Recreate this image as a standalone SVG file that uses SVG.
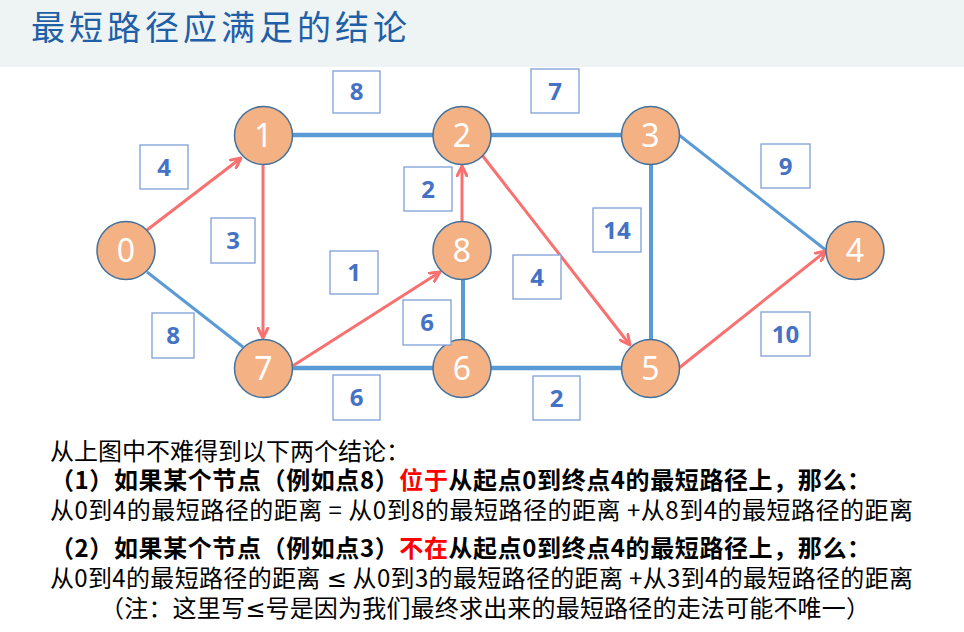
<svg xmlns="http://www.w3.org/2000/svg" width="964" height="632" viewBox="0 0 964 632">
<defs>
<marker id="arr" viewBox="0 0 12 12" refX="11" refY="6" markerWidth="12" markerHeight="12" markerUnits="userSpaceOnUse" orient="auto">
<path d="M1,1 L11,6 L1,11" fill="none" stroke="#F87171" stroke-width="3" stroke-linecap="round" stroke-linejoin="round"/>
</marker>
<style>
.node circle{fill:#F4B183;stroke:#41719C;stroke-width:1.5}
.node text{fill:#fff;font-family:"Noto Sans","Open Sans",sans-serif;font-size:32px;text-anchor:middle}
.lbl rect{fill:#fff;stroke:#7F9FD8;stroke-width:1.3}
.lbl text{fill:#4472C4;font-family:"Open Sans","Noto Sans",sans-serif;font-size:24px;font-weight:700;text-anchor:middle}
.blue{stroke:#5B9BD5;fill:none}
.red{stroke:#F87171;stroke-width:3;fill:none;marker-end:url(#arr)}
.txt{font-family:"Noto Sans CJK SC","Noto Sans",sans-serif;font-size:24px;fill:#000}
.b{font-weight:bold}
.r{fill:#FF0000}
.le{font-family:"Noto Sans","DejaVu Sans",sans-serif}
</style>
</defs>
<rect x="0" y="0" width="964" height="632" fill="#fff"/>
<rect x="0" y="0" width="964" height="67" fill="#EEF3F4"/>
<text x="31" y="40" font-family="Noto Sans CJK SC,Noto Sans,sans-serif" font-size="34" fill="#1F5FA8" textLength="376" lengthAdjust="spacing">最短路径应满足的结论</text>

<g id="connectors">
<line class="blue" stroke-width="4.5" x1="292" y1="135" x2="434" y2="135"/>
<line class="blue" stroke-width="4.5" x1="491" y1="135" x2="622" y2="135"/>
<line class="blue" stroke-width="4.5" x1="292" y1="368" x2="434" y2="368"/>
<line class="blue" stroke-width="4.5" x1="491" y1="368" x2="622" y2="368"/>
<line class="blue" stroke-width="4" x1="463" y1="279" x2="463" y2="340"/>
<line class="blue" stroke-width="4" x1="651" y1="164" x2="651" y2="340"/>
<line class="blue" stroke-width="3" x1="147" y1="272" x2="243" y2="347"/>
<line class="blue" stroke-width="3" x1="679" y1="135" x2="827" y2="251"/>
<line class="red" x1="147" y1="230" x2="241" y2="158"/>
<line class="red" x1="263" y1="165" x2="263" y2="338"/>
<line class="red" x1="291" y1="367" x2="440" y2="272"/>
<line class="red" x1="462" y1="222" x2="462" y2="166"/>
<line class="red" x1="482" y1="155" x2="630" y2="345"/>
<line class="red" x1="679" y1="368" x2="826" y2="251"/>
</g>

<g id="n0" class="node"><circle cx="126" cy="250.5" r="29"/><text x="126" y="262">0</text></g>
<g id="n1" class="node"><circle cx="263.5" cy="135.5" r="29"/><text x="263.5" y="147">1</text></g>
<g id="n2" class="node"><circle cx="462" cy="135.5" r="29"/><text x="462" y="147">2</text></g>
<g id="n3" class="node"><circle cx="650.5" cy="135.5" r="29"/><text x="650.5" y="147">3</text></g>
<g id="n4" class="node"><circle cx="855" cy="250.5" r="29"/><text x="855" y="262">4</text></g>
<g id="n5" class="node"><circle cx="650.5" cy="368.5" r="29"/><text x="650.5" y="380">5</text></g>
<g id="n6" class="node"><circle cx="462" cy="368.5" r="29"/><text x="462" y="380">6</text></g>
<g id="n7" class="node"><circle cx="263.5" cy="368.5" r="29"/><text x="263.5" y="380">7</text></g>
<g id="n8" class="node"><circle cx="462" cy="250.5" r="29"/><text x="462" y="262">8</text></g>

<g id="labels">
<g class="lbl"><rect x="333" y="71" width="47" height="42"/><text x="356.5" y="100">8</text></g>
<g class="lbl"><rect x="531" y="69" width="48" height="44"/><text x="555" y="99.5">7</text></g>
<g class="lbl"><rect x="140" y="145" width="48" height="44"/><text x="164" y="175.5">4</text></g>
<g class="lbl"><rect x="211" y="218" width="44" height="45"/><text x="233" y="249">3</text></g>
<g class="lbl"><rect x="152" y="313" width="42" height="45"/><text x="173" y="344">8</text></g>
<g class="lbl"><rect x="330" y="251" width="48" height="43"/><text x="354" y="281">1</text></g>
<g class="lbl"><rect x="404" y="167" width="48" height="44"/><text x="428" y="197.5">2</text></g>
<g class="lbl"><rect x="403" y="300" width="48" height="45"/><text x="427" y="331">6</text></g>
<g class="lbl"><rect x="513" y="255" width="48" height="44"/><text x="537" y="285.5">4</text></g>
<g class="lbl"><rect x="593" y="208" width="48" height="44"/><text x="617" y="238.5">14</text></g>
<g class="lbl"><rect x="761" y="144" width="49" height="44"/><text x="785.5" y="174.5">9</text></g>
<g class="lbl"><rect x="761" y="312" width="49" height="44"/><text x="785.5" y="342.5">10</text></g>
<g class="lbl"><rect x="333" y="375" width="47" height="45"/><text x="356.5" y="406">6</text></g>
<g class="lbl"><rect x="533" y="376" width="47" height="44"/><text x="556.5" y="406.5">2</text></g>
</g>

<g id="notes">
<text class="txt" x="50" y="460">从上图中不难得到以下两个结论：</text>
<text class="txt b" x="50" y="489" textLength="821" lengthAdjust="spacing">（1）如果某个节点（例如点8）<tspan class="r">位于</tspan>从起点0到终点4的最短路径上，那么：</text>
<text class="txt" x="50" y="519" textLength="863" lengthAdjust="spacing">从0到4的最短路径的距离 = 从0到8的最短路径的距离 +从8到4的最短路径的距离</text>
<text class="txt b" x="50" y="557" textLength="821" lengthAdjust="spacing">（2）如果某个节点（例如点3）<tspan class="r">不在</tspan>从起点0到终点4的最短路径上，那么：</text>
<text class="txt" x="50" y="587" textLength="863" lengthAdjust="spacing">从0到4的最短路径的距离 <tspan class="le">≤</tspan> 从0到3的最短路径的距离 +从3到4的最短路径的距离</text>
<text class="txt" x="100" y="617" textLength="770" lengthAdjust="spacing">（注：这里写<tspan class="le">≤</tspan>号是因为我们最终求出来的最短路径的走法可能不唯一）</text>
</g>
</svg>
